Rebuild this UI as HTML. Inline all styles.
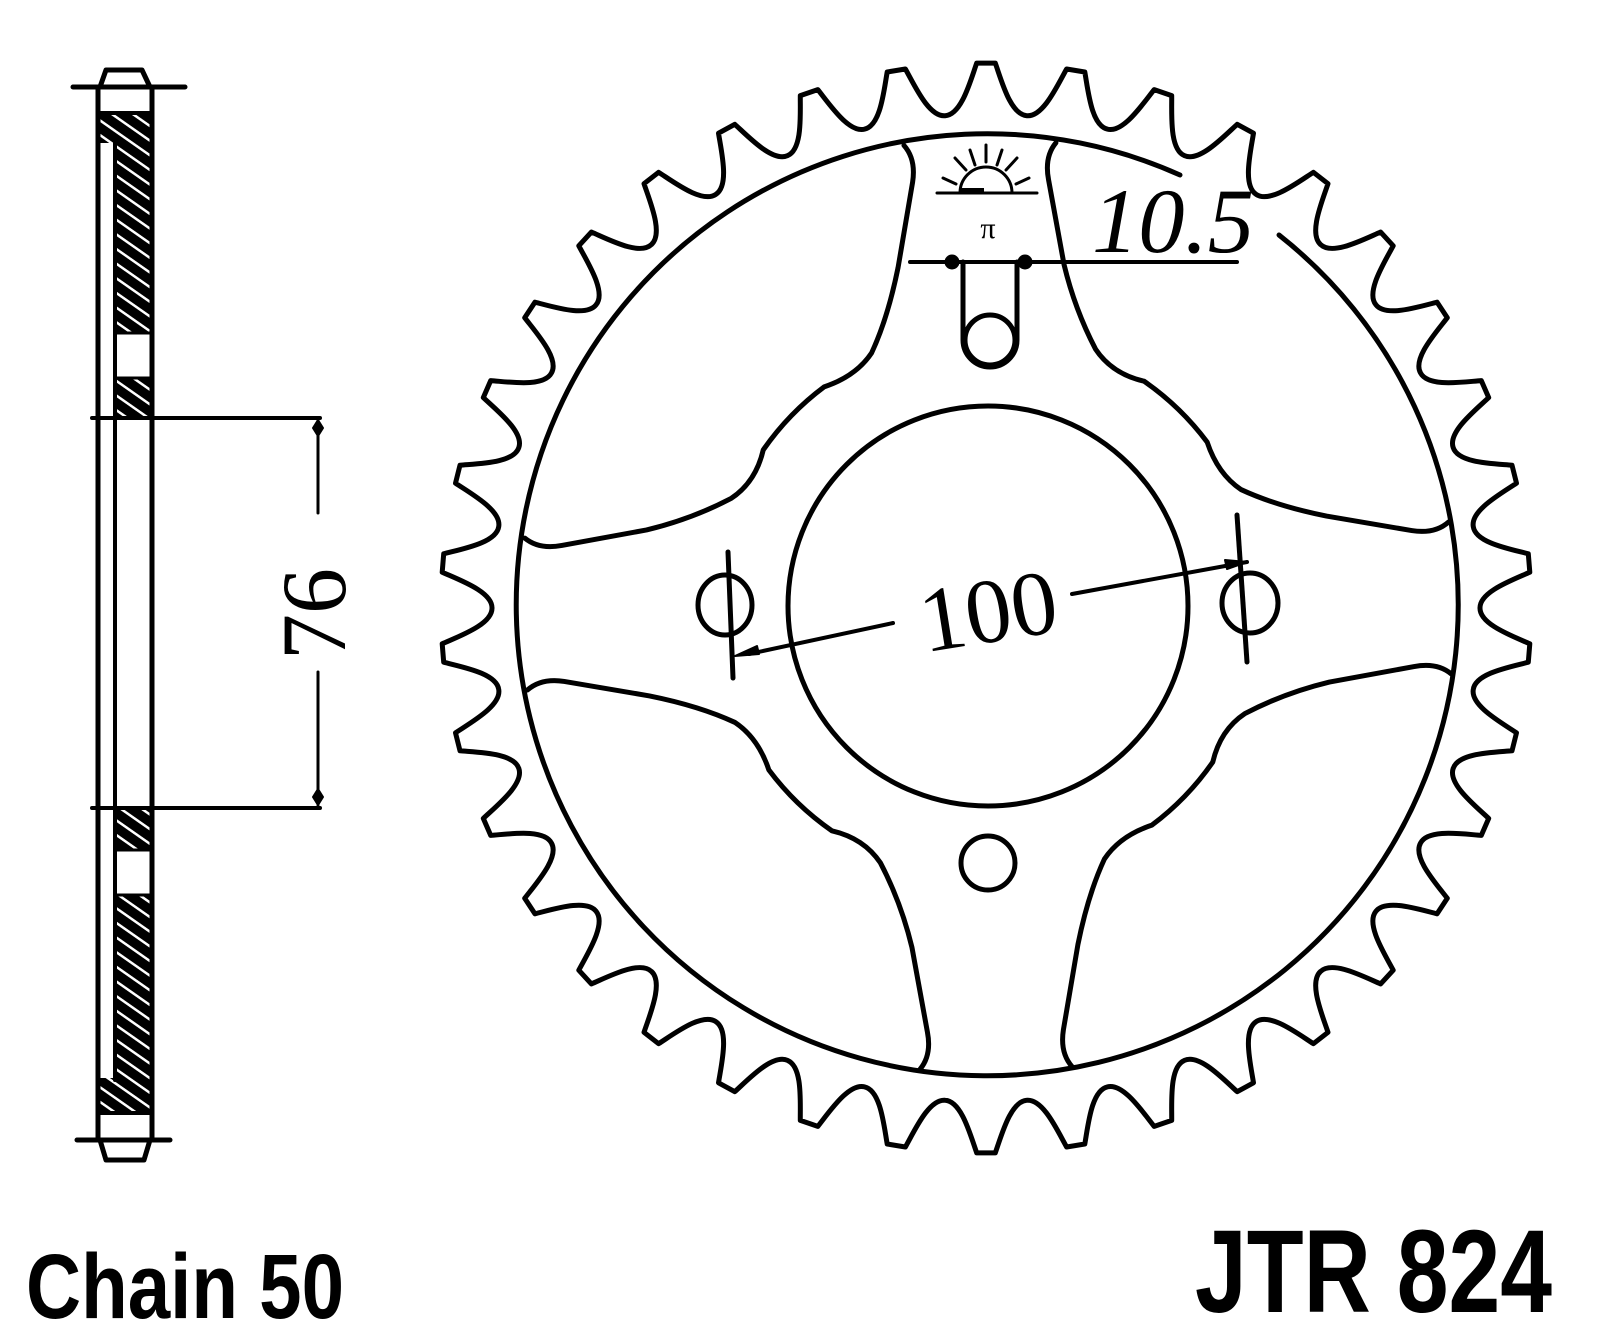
<!DOCTYPE html>
<html><head><meta charset="utf-8"><style>
html,body{margin:0;padding:0;background:#fff;}
svg{display:block;}
</style></head><body>
<svg id="s" width="1600" height="1333" viewBox="0 0 1600 1333" xmlns="http://www.w3.org/2000/svg">
<defs>
<pattern id="h" width="12" height="12" patternUnits="userSpaceOnUse" patternTransform="rotate(35)">
<rect width="12" height="12" fill="#000"/>
<rect x="0" y="4" width="12" height="2.5" fill="#fff"/>
</pattern>
</defs>
<g fill="none" stroke="#000" stroke-width="5" stroke-linecap="round" stroke-linejoin="round">
<!-- side view -->
<rect x="100" y="113" width="52" height="30" fill="url(#h)" stroke="none"/>
<rect x="115" y="113" width="37" height="220" fill="url(#h)" stroke="none"/>
<rect x="115" y="378" width="37" height="40" fill="url(#h)" stroke="none"/>
<rect x="115" y="808" width="37" height="42" fill="url(#h)" stroke="none"/>
<rect x="115" y="895" width="37" height="218" fill="url(#h)" stroke="none"/>
<rect x="100" y="1078" width="52" height="35" fill="url(#h)" stroke="none"/>
<line x1="98" y1="87" x2="98" y2="1140"/>
<line x1="152" y1="87" x2="152" y2="1140"/>
<line x1="115" y1="143" x2="115" y2="1080" stroke-width="4"/>
<line x1="115" y1="333" x2="152" y2="333" stroke-width="3"/>
<line x1="115" y1="378" x2="152" y2="378" stroke-width="3"/>
<line x1="115" y1="850" x2="152" y2="850" stroke-width="3"/>
<line x1="115" y1="895" x2="152" y2="895" stroke-width="3"/>
<line x1="98" y1="113" x2="152" y2="113" stroke-width="4"/>
<line x1="98" y1="1113" x2="152" y2="1113" stroke-width="4"/>
<line x1="73" y1="87" x2="185" y2="87"/>
<path d="M100,87 L106,70 L142,70 L150,87"/>
<line x1="77" y1="1140" x2="170" y2="1140"/>
<path d="M100,1140 L106,1160 L144,1160 L150,1140"/>
<line x1="92" y1="418" x2="320" y2="418" stroke-width="4"/>
<line x1="92" y1="808" x2="320" y2="808" stroke-width="4"/>
<line x1="318" y1="420" x2="318" y2="513" stroke-width="3"/>
<line x1="318" y1="672" x2="318" y2="805" stroke-width="3"/>
<path d="M318,420 l-5,8 l5,8 l5,-8z M318,805 l-5,-8 l5,-8 l5,8z" fill="#000" stroke-width="2"/>

<!-- sprocket -->
<path id="teeth" stroke-width="5"/>
<path d="M 1279,235 A 471 471 0 1 1 1180,175"/>
<circle cx="988" cy="606" r="200"/>
<g id="win" transform="translate(988,606) rotate(-1)">
<path id="w0" d="M 76,-462 Q 64,-448 68,-425 L 82,-340 Q 92,-295 112,-255 Q 128,-230 160,-222 A 272 272 0 0 1 222,-160 Q 232,-128 255,-112 Q 290,-95 340,-84 L 425,-68 Q 448,-64 462,-76"/>
<use href="#w0" transform="rotate(90)"/>
<use href="#w0" transform="rotate(180)"/>
<use href="#w0" transform="rotate(270)"/>
</g>
<!-- slot & hole -->
<line x1="910" y1="262" x2="1237" y2="262" stroke-width="4"/>
<circle cx="952" cy="262" r="5" fill="#000"/>
<circle cx="1025" cy="262" r="5" fill="#000"/>
<path d="M963,262 L963,340 A 26 26 0 0 0 1017,340 L1017,262" />
<circle cx="990" cy="340" r="25"/>
<circle cx="988" cy="863" r="27"/>
<!-- sun logo -->
<g stroke-width="3">
<line x1="937" y1="193" x2="1037" y2="193"/>
<path d="M960,193 A 26 26 0 0 1 1012,193"/>
<line x1="986" y1="145" x2="986" y2="162"/>
<line x1="955" y1="158" x2="966" y2="170"/>
<line x1="1017" y1="158" x2="1006" y2="170"/>
<line x1="943" y1="178" x2="956" y2="184"/>
<line x1="1029" y1="178" x2="1016" y2="184"/>
<line x1="970" y1="150" x2="975" y2="165"/>
<line x1="1002" y1="150" x2="997" y2="165"/>
</g>
<rect x="960" y="188" width="24" height="5" fill="#000" stroke="none"/>
<!-- phi dims -->
<ellipse cx="725" cy="605" rx="27" ry="30" stroke-width="5"/>
<line x1="728" y1="552" x2="733" y2="678"/>
<ellipse cx="1250" cy="603" rx="28" ry="30" stroke-width="5"/>
<line x1="1237" y1="515" x2="1247" y2="662"/>
<line x1="749" y1="654" x2="893" y2="623" stroke-width="4"/>
<line x1="1072" y1="594" x2="1247" y2="562" stroke-width="4"/>
<path d="M735,656 l22,-10 l2,8z M1247,562 l-22,-2 l2,9z" fill="#000" stroke-width="2"/>
</g>
<g font-family="'Liberation Serif', serif" fill="#000">
<text x="988" y="238" font-size="30" text-anchor="middle">π</text>
<text x="1092" y="252" font-size="92" font-style="italic" textLength="162" lengthAdjust="spacingAndGlyphs">10.5</text>
<text transform="translate(988,610) rotate(-9)" font-size="92" text-anchor="middle" y="32">100</text>
<text transform="translate(313,614) rotate(-90)" font-size="92" text-anchor="middle" y="32">76</text>
</g>
<g font-family="'Liberation Sans', sans-serif" font-weight="bold" fill="#000">
<text x="26" y="1318" font-size="92" textLength="318" lengthAdjust="spacingAndGlyphs">Chain 50</text>
<text x="1195" y="1312" font-size="118" textLength="357" lengthAdjust="spacingAndGlyphs">JTR 824</text>
</g>
</svg>
<script>
(function(){
var cx=986,cy=608,N=38,p=2*Math.PI/N,Rt=545,Rr=494,d="";
function pt(a,r){return (cx+r*Math.cos(a)).toFixed(1)+","+(cy+r*Math.sin(a)).toFixed(1);}
for(var k=0;k<N;k++){
 var t=-Math.PI/2+k*p, dt=0.017;
 d+=(k==0?"M"+pt(t-dt,Rt):"")+" L"+pt(t+dt,Rt)+" ";
 d+="C"+pt(t+0.18*p,Rt-18)+" "+pt(t+0.3*p,Rr)+" "+pt(t+0.5*p,Rr)+" ";
 d+="C"+pt(t+0.7*p,Rr)+" "+pt(t+0.82*p,Rt-18)+" "+pt(t+p-dt,Rt)+" ";
}
d+="Z";
document.getElementById("teeth").setAttribute("d",d);
})();
</script>
</body></html>
